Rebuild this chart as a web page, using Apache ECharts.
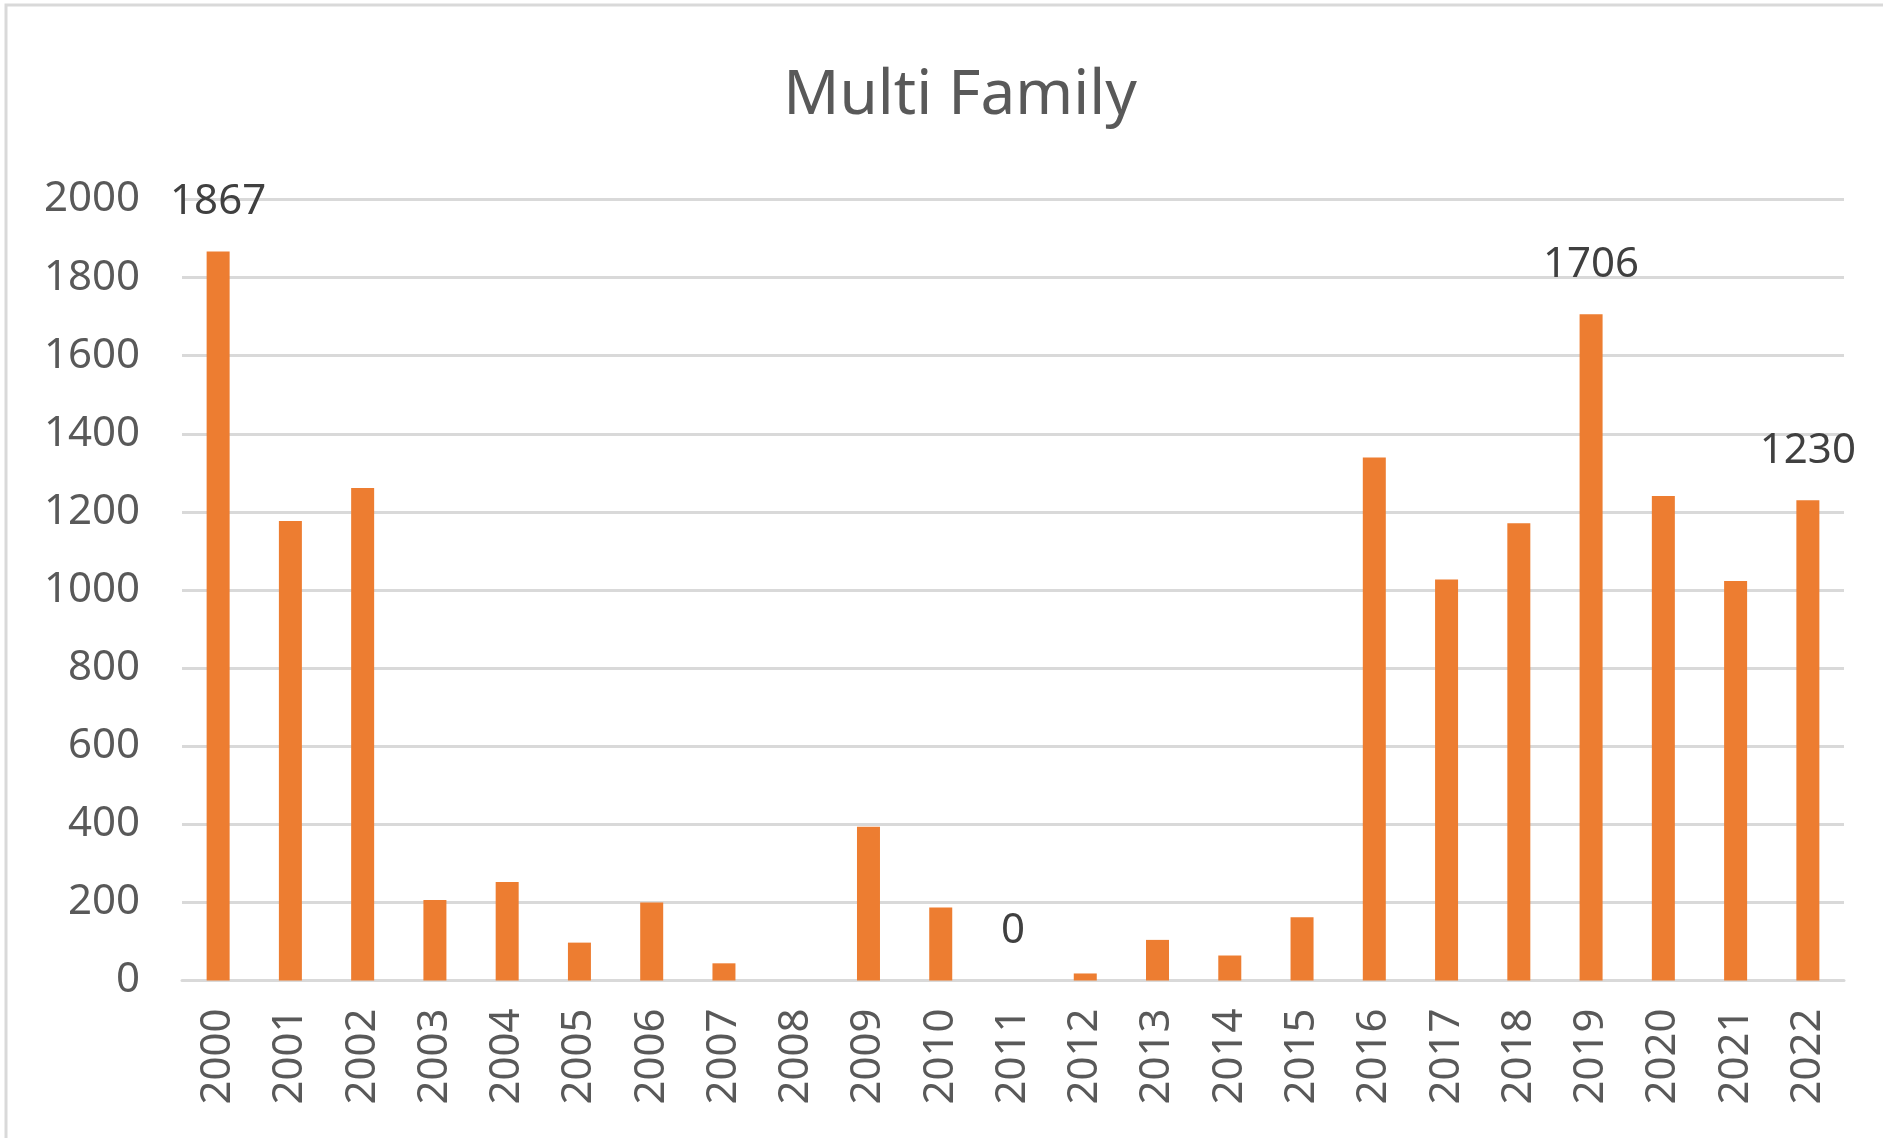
<!DOCTYPE html>
<html>
<head>
<meta charset="utf-8">
<title>Multi Family</title>
<script src="https://cdn.jsdelivr.net/npm/echarts@6/dist/echarts.min.js"></script>
<style>
  html, body { margin: 0; padding: 0; background: #fff; }
  #chart { width: 1883px; height: 1138px; }
</style>
</head>
<body>
<div id="chart"></div>
<script>
var years = ['2000', '2001', '2002', '2003', '2004', '2005', '2006', '2007', '2008', '2009', '2010',
  '2011', '2012', '2013', '2014', '2015', '2016', '2017', '2018', '2019', '2020', '2021', '2022']
var units = [1867, 1177, 1261, 206, 252, 97, 200, 44, 0, 394, 187,
  0, 18, 104, 64, 162, 1339, 1027, 1171, 1706, 1241, 1023, 1230]
// only these years carry a value label in the original
var labelledYears = ['2000', '2011', '2019', '2022']
var yTicks = { min: 0, max: 2000, interval: 200 }

var font = '"Noto Sans", sans-serif'
var grey = '#595959'

var chart = echarts.init(document.getElementById('chart'))

var barData = units.map(function (v, i) {
  var item = { value: v }
  if (labelledYears.indexOf(years[i]) >= 0) {
    item.label = { show: true }
  }
  return item
})

chart.setOption({
  backgroundColor: '#fff',
  animation: false,
  title: {
    text: 'Multi Family',
    left: 955,
    textAlign: 'center',
    top: 60,
    textStyle: {
      color: grey,
      fontFamily: font,
      fontSize: 62,
      fontWeight: 'normal'
    }
  },
  graphic: [
    {
      type: 'rect',
      shape: { x: 6, y: 5, width: 1900, height: 1200 },
      style: { fill: 'none', stroke: '#d9d9d9', lineWidth: 3 },
      silent: true
    }
  ],
  grid: {
    left: 182,
    right: 39,
    top: 199.5,
    bottom: 157.5
  },
  xAxis: {
    type: 'category',
    data: years,
    axisTick: { show: false },
    axisLine: { lineStyle: { color: '#d9d9d9', width: 3 } },
    axisLabel: {
      rotate: 90,
      margin: 28,
      color: grey,
      fontFamily: font,
      fontSize: 42
    }
  },
  yAxis: {
    type: 'value',
    min: yTicks.min,
    max: yTicks.max,
    interval: yTicks.interval,
    axisLine: { show: false },
    axisTick: { show: false },
    splitLine: { lineStyle: { color: '#d9d9d9', width: 3 } },
    axisLabel: {
      margin: 42,
      color: grey,
      fontFamily: font,
      fontSize: 42,
      formatter: function (v) { return String(v) }
    }
  },
  series: [
    {
      type: 'bar',
      data: barData,
      barWidth: 23,
      itemStyle: { color: '#ed7d31' },
      label: {
        show: false,
        position: 'top',
        distance: 28,
        color: '#404040',
        fontFamily: font,
        fontSize: 42
      }
    }
  ]
})
</script>
</body>
</html>
